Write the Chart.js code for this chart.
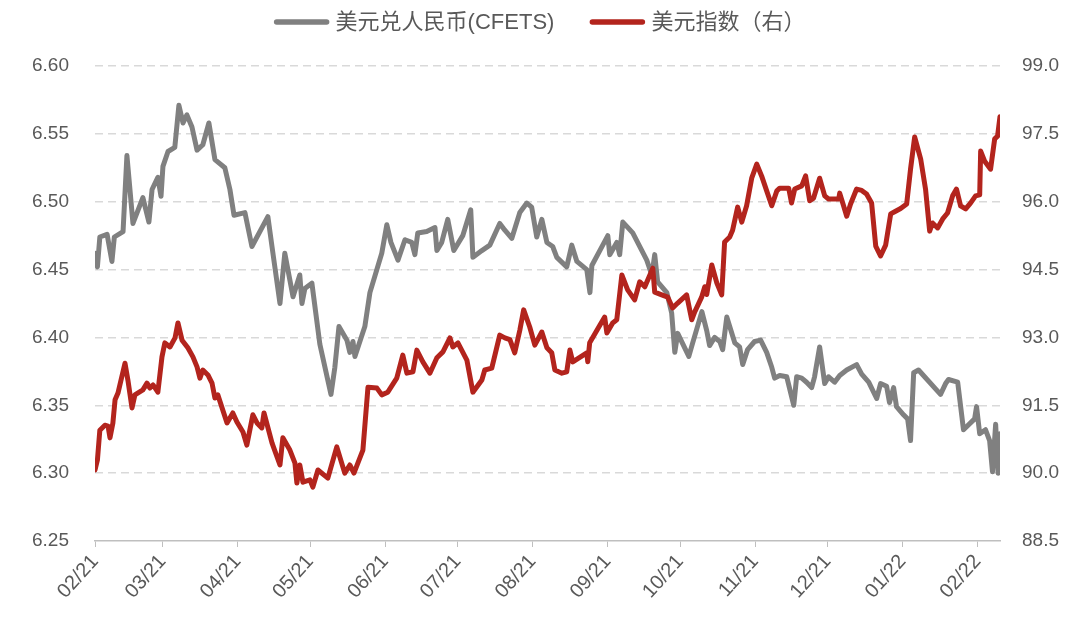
<!DOCTYPE html>
<html>
<head>
<meta charset="utf-8">
<script src="https://cdn.jsdelivr.net/npm/chart.js@4"></script>
<style>
  html, body { margin: 0; padding: 0; background: #ffffff; }
  #wrap { width: 1080px; height: 627px; }
</style>
</head>
<body>
<div id="wrap"><canvas id="chart" width="1080" height="627"></canvas></div>
<script>
// USD/CNY (CFETS) vs US dollar index, Feb 2021 - Feb 2022

// x positions are days counted from 2021-02-01
const monthDays = [0, 28, 59, 89, 120, 150, 181, 212, 242, 273, 303, 334, 365];
const monthLabels = ['02/21', '03/21', '04/21', '05/21', '06/21', '07/21', '08/21',
  '09/21', '10/21', '11/21', '12/21', '01/22', '02/22'];

const leftTicks = [6.25, 6.30, 6.35, 6.40, 6.45, 6.50, 6.55, 6.60];
const rightTicks = [88.5, 90.0, 91.5, 93.0, 94.5, 96.0, 97.5, 99.0];

const seriesNames = ['美元兑人民币(CFETS)', '美元指数（右）'];
const seriesColors = ['#808080', '#b3241d'];

// 美元兑人民币(CFETS)
const cnyDays = [0, 1, 2, 5, 7, 8, 11.6, 13.2, 15.7, 19.8, 22.3, 23.6, 26, 27.3, 28.1, 30.2,
  33, 34.7, 36.4, 38, 40.1, 42.2, 44.6, 47.1, 49.6, 53.7, 55.8, 57.5, 62, 64.9, 71.5, 73.2,
  76.5, 78.5, 81.9, 84.7, 85.6, 86.8, 89.7, 93, 97.6, 99.2, 100.9, 104.2, 105.4, 106.7, 107.5,
  111.6, 113.7, 118.6, 120.7, 122.4, 125.3, 128.2, 131, 132.3, 133.5, 137.2, 140.6, 141.4,
  143.4, 145.9, 148.4, 152.1, 155.4, 156.3, 160, 163.3, 167.4, 169.5, 172.4, 175.7, 178.6,
  180.6, 182.7, 184.8, 186.9, 189.3, 191, 195.1, 197.2, 199.3, 203.4, 204.7, 205.5, 210,
  212.1, 212.9, 215.8, 217, 218.3, 222.4, 228.2, 230.3, 231.5, 232.7, 236.5, 238.5, 239.8,
  241, 245.6, 247.2, 251, 253, 254.2, 256.3, 258.4, 259.6, 261.3, 264.6, 266.6, 267.9, 269.9,
  272.8, 275.3, 277.8, 279.9, 281.1, 283.2, 286.1, 289, 290.2, 292.3, 294.3, 296.4, 297.6,
  299.7, 301.8, 303.4, 305.9, 308, 310.9, 315, 317.1, 320, 323.3, 324.9, 327.4, 328.6, 330.3,
  331.5, 334.4, 336.1, 337.3, 338.6, 340.6, 349.7, 351.8, 353, 356.8, 359.2, 363.8, 364.6,
  365.9, 368.3, 370, 371.2, 372.5, 373.5, 374.3];
const cnyValues = [6.462, 6.452, 6.474, 6.476, 6.456, 6.474, 6.478, 6.534, 6.484, 6.503, 6.485,
  6.509, 6.518, 6.504, 6.526, 6.537, 6.540, 6.571, 6.558, 6.564, 6.555, 6.538, 6.542, 6.558,
  6.531, 6.525, 6.509, 6.490, 6.492, 6.467, 6.489, 6.467, 6.425, 6.462, 6.430, 6.446, 6.425,
  6.436, 6.440, 6.395, 6.358, 6.378, 6.408, 6.398, 6.389, 6.397, 6.386, 6.408, 6.433, 6.462,
  6.483, 6.470, 6.457, 6.472, 6.470, 6.461, 6.477, 6.478, 6.481, 6.464, 6.470, 6.487, 6.464,
  6.475, 6.494, 6.459, 6.464, 6.468, 6.484, 6.479, 6.473, 6.492, 6.499, 6.496, 6.474, 6.487,
  6.470, 6.467, 6.459, 6.452, 6.468, 6.456, 6.450, 6.433, 6.453, 6.468, 6.475, 6.461, 6.470,
  6.461, 6.485, 6.477, 6.457, 6.446, 6.461, 6.441, 6.433, 6.418, 6.389, 6.403, 6.386, 6.396,
  6.419, 6.405, 6.394, 6.400, 6.397, 6.391, 6.415, 6.396, 6.393, 6.380, 6.391, 6.397, 6.398,
  6.389, 6.378, 6.370, 6.372, 6.371, 6.350, 6.371, 6.370, 6.367, 6.363, 6.371, 6.393, 6.366,
  6.371, 6.367, 6.372, 6.376, 6.380, 6.373, 6.367, 6.355, 6.366, 6.364, 6.352, 6.363, 6.349,
  6.343, 6.340, 6.324, 6.374, 6.376, 6.358, 6.366, 6.369, 6.367, 6.332, 6.340, 6.349, 6.329,
  6.332, 6.324, 6.301, 6.336, 6.300, 6.329];

// 美元指数（右）
const dxyDays = [0, 1, 2, 4.1, 5.4, 6.2, 7.4, 8.3, 9.5, 12.4, 13.6, 15.3, 16.5, 19.8, 21.5,
  22.7, 24, 26, 27.7, 28.9, 31, 33.1, 34.3, 36, 38.4, 40.5, 42.2, 43.4, 44.6, 46.7, 48.4, 49.6,
  50.8, 54.6, 57, 58.7, 61.2, 62.8, 65.3, 67, 69, 69.9, 73.2, 76.5, 77.7, 80.6, 82.7, 83.5,
  84.7, 86, 88.9, 90.1, 92.2, 96.3, 100, 103.3, 105.4, 107.1, 110.8, 112.9, 116.6, 118.6,
  121.1, 124.8, 127.3, 129, 131.5, 133.1, 135.6, 138.5, 141.4, 143.9, 146.8, 148, 150.1, 153.8,
  156.3, 160, 161.2, 164.1, 167.4, 169.5, 171.6, 173.6, 175.7, 177.3, 179.8, 181.9, 184.8,
  186.9, 188.9, 190.2, 193.1, 195.1, 196.4, 197.6, 203.4, 203.8, 204.6, 208.8, 210.8, 211.7,
  214.1, 215.8, 217.9, 220.3, 223.2, 225.3, 227.4, 230.7, 231.5, 234.4, 236.9, 238.9, 241,
  244.7, 246.8, 248, 250.9, 252.2, 253, 255.1, 257.2, 259.2, 260.4, 262.5, 263.7, 265.8,
  267.5, 269.5, 271.6, 273.7, 275.7, 277.8, 279.9, 282, 283.2, 286.9, 288.1, 289.4, 292.3,
  293.9, 295.6, 297.2, 299.7, 301.8, 303.4, 307.6, 308, 309.6, 310.9, 312.5, 315, 317.1, 319.1,
  321.2, 322.9, 324.9, 327, 329.1, 331.1, 333.2, 335.7, 337.3, 339, 341.5, 343.5, 345.2, 346.4,
  348.5, 350.6, 352.6, 354.7, 356.3, 358, 360.1, 362.1, 364.2, 365.9, 366.3, 367.9, 370.4,
  372.1, 373.3, 374.3];
const dxyValues = [90.07, 90.29, 90.95, 91.06, 91.04, 90.78, 91.11, 91.62, 91.77, 92.43, 92.06,
  91.44, 91.73, 91.84, 91.99, 91.88, 91.95, 91.79, 92.57, 92.88, 92.79, 92.99, 93.32, 92.94,
  92.77, 92.57, 92.35, 92.10, 92.28, 92.17, 91.99, 91.66, 91.73, 91.11, 91.33, 91.13, 90.91,
  90.62, 91.29, 91.11, 91.00, 91.33, 90.67, 90.18, 90.78, 90.51, 90.22, 89.78, 90.18, 89.80,
  89.85, 89.69, 90.07, 89.89, 90.58, 90.00, 90.18, 90.00, 90.51, 91.90, 91.88, 91.73, 91.79,
  92.10, 92.61, 92.21, 92.24, 92.72, 92.46, 92.21, 92.55, 92.68, 92.99, 92.79, 92.88, 92.50,
  91.79, 92.06, 92.28, 92.32, 93.05, 92.99, 92.95, 92.66, 93.16, 93.61, 93.23, 92.83, 93.12,
  92.77, 92.66, 92.28, 92.21, 92.24, 92.72, 92.46, 92.66, 92.46, 92.88, 93.27, 93.45, 93.10,
  93.32, 93.39, 94.38, 94.05, 93.83, 94.23, 94.12, 94.53, 94.00, 93.94, 93.89, 93.65, 93.76,
  93.94, 93.39, 93.56, 93.89, 94.12, 93.95, 94.60, 94.20, 93.94, 95.11, 95.22, 95.37, 95.88,
  95.55, 95.91, 96.52, 96.83, 96.57, 96.24, 95.91, 96.24, 96.30, 96.30, 95.97, 96.28, 96.35,
  96.57, 96.02, 96.08, 96.52, 96.13, 96.06, 96.06, 96.19, 95.91, 95.68, 95.95, 96.28, 96.25,
  96.17, 95.97, 95.02, 94.80, 95.04, 95.73, 95.79, 95.85, 95.95, 96.72, 97.43, 96.94, 96.28,
  95.35, 95.53, 95.42, 95.62, 95.75, 96.13, 96.28, 95.91, 95.84, 95.97, 96.13, 96.15, 97.12,
  96.90, 96.72, 97.39, 97.45, 97.88];

const TEXT_COLOR = '#595959';
const GRID_COLOR = '#d9d9d9';
const FONT = "'Liberation Sans', 'Noto Sans CJK SC', sans-serif";

const toPoints = (days, values) => days.map((d, i) => ({ x: d, y: values[i] }));

// legend drawn on top of the chart, centred
const topLegend = {
  id: 'topLegend',
  afterDraw(chart) {
    const ctx = chart.ctx;
    const lineLen = 54, gap = 7, spacing = 36, y = 22;
    ctx.save();
    ctx.font = '22px ' + FONT;
    const widths = seriesNames.map(n => ctx.measureText(n).width);
    const total = widths.reduce((a, w) => a + lineLen + gap + w, 0) + spacing * (seriesNames.length - 1);
    let x = chart.width / 2 - total / 2;
    seriesNames.forEach((name, i) => {
      ctx.strokeStyle = seriesColors[i];
      ctx.lineWidth = 5.5;
      ctx.lineCap = 'round';
      ctx.beginPath();
      ctx.moveTo(x + 2, y);
      ctx.lineTo(x + lineLen - 2, y);
      ctx.stroke();
      ctx.fillStyle = TEXT_COLOR;
      ctx.textBaseline = 'middle';
      ctx.textAlign = 'left';
      ctx.fillText(name, x + lineLen + gap, y + 1);
      x += lineLen + gap + widths[i] + spacing;
    });
    ctx.restore();
  }
};

const ctx = document.getElementById('chart').getContext('2d');
new Chart(ctx, {
  type: 'line',
  data: {
    datasets: [
      {
        label: seriesNames[0],
        data: toPoints(cnyDays, cnyValues),
        yAxisID: 'y',
        borderColor: seriesColors[0],
        borderWidth: 5,
        borderJoinStyle: 'round',
        borderCapStyle: 'round',
        pointRadius: 0,
        tension: 0,
        order: 2,
      },
      {
        label: seriesNames[1],
        data: toPoints(dxyDays, dxyValues),
        yAxisID: 'y1',
        borderColor: seriesColors[1],
        borderWidth: 5,
        borderJoinStyle: 'round',
        borderCapStyle: 'round',
        pointRadius: 0,
        tension: 0,
        order: 1,
      }
    ]
  },
  options: {
    responsive: false,
    animation: false,
    layout: { padding: { top: 66, left: 0, right: 0, bottom: 0 } },
    plugins: {
      legend: { display: false },
      tooltip: { enabled: false },
    },
    scales: {
      x: {
        type: 'linear',
        min: 0,
        max: 374.3,
        afterBuildTicks: (s) => { s.ticks = monthDays.map(v => ({ value: v })); },
        afterFit: (s) => { s.height = 86; },
        ticks: {
          autoSkip: false,
          maxRotation: 48,
          minRotation: 48,
          padding: 3,
          color: TEXT_COLOR,
          font: { family: FONT, size: 20 },
          callback: (v) => monthLabels[monthDays.indexOf(v)],
        },
        grid: {
          drawOnChartArea: false,
          drawTicks: true,
          tickLength: 6,
          color: '#bfbfbf',
          lineWidth: 1,
        },
        border: { display: true, color: '#bfbfbf', width: 1.5 },
      },
      y: {
        position: 'left',
        min: 6.25,
        max: 6.60,
        afterBuildTicks: (s) => { s.ticks = leftTicks.map(v => ({ value: v })); },
        afterFit: (s) => { s.width = 95; },
        ticks: {
          padding: 26,
          color: TEXT_COLOR,
          font: { family: FONT, size: 19 },
          callback: (v) => v.toFixed(2),
        },
        grid: {
          drawTicks: false,
          color: (c) => c.tick && c.tick.value === 6.25 ? 'rgba(0,0,0,0)' : GRID_COLOR,
          lineWidth: 1.5,
        },
        border: { display: false, dash: [8, 5] },
      },
      y1: {
        position: 'right',
        min: 88.5,
        max: 99.0,
        afterBuildTicks: (s) => { s.ticks = rightTicks.map(v => ({ value: v })); },
        afterFit: (s) => { s.width = 80; },
        ticks: {
          padding: 22,
          color: TEXT_COLOR,
          font: { family: FONT, size: 19 },
          callback: (v) => v.toFixed(1),
        },
        grid: { display: false, drawTicks: false },
        border: { display: false },
      }
    }
  },
  plugins: [topLegend]
});
</script>
</body>
</html>
